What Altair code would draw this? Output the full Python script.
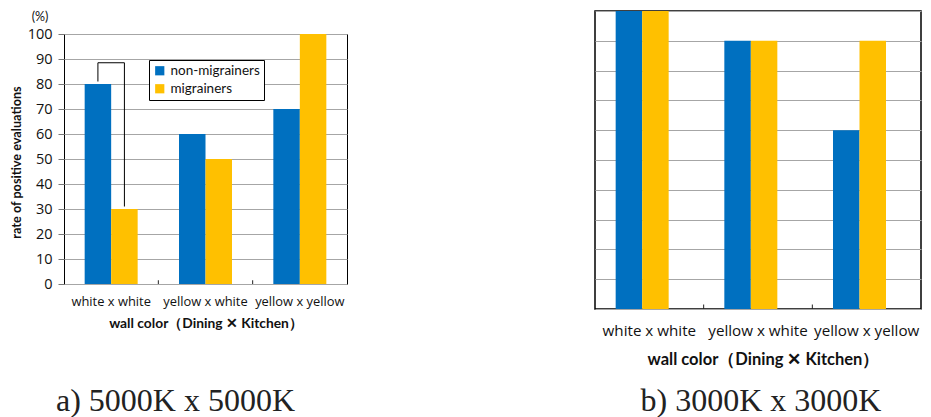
import altair as alt
import pandas as pd

categories = ["white x white", "yellow x white", "yellow x yellow"]
groups = ["non-migrainers", "migrainers"]
a_non = [80, 60, 70]
a_mig = [30, 50, 100]
b_non = [100, 90, 60]
b_mig = [100, 90, 90]
y_ticks = [0, 10, 20, 30, 40, 50, 60, 70, 80, 90, 100]
bracket_category = ["white x white"] * 4
bracket_group = ["non-migrainers", "non-migrainers", "migrainers", "migrainers"]
bracket_value = [81, 88.5, 88.5, 31]
bracket_order = [0, 1, 2, 3]
boundary_categories = ["yellow x white", "yellow x yellow"]
boundary_low = [0, 0]
boundary_high = [1.5, 1.5]
colors = ["#0070C0", "#FFC000"]
x_title = "wall color（Dining ✕ Kitchen）"


def long_df(non, mig):
    rows = []
    for c, v in zip(categories, non):
        rows.append({"category": c, "group": groups[0], "value": v})
    for c, v in zip(categories, mig):
        rows.append({"category": c, "group": groups[1], "value": v})
    return pd.DataFrame(rows)


df_a = long_df(a_non, a_mig)
df_b = long_df(b_non, b_mig)
df_br = pd.DataFrame({"category": bracket_category, "group": bracket_group,
                      "value": bracket_value, "order": bracket_order})
df_bound = pd.DataFrame({"category": boundary_categories, "value": boundary_low,
                         "value2": boundary_high})
df_pct = pd.DataFrame({"t": ["(%)"]})

GRID = "#A6A6A6"
FONT = "Lato"
LFONT = "Open Sans"
Y_SCALE = alt.Scale(domain=[0, 100], nice=False)


def panel_layers(df, label_size, label_pad, title_size, title_pad, y_axis, pad_outer, legend,
                 title_x=None):
    axis_kw = dict(title=x_title, labelAngle=0, ticks=False, domain=False,
                   labelFont=LFONT, labelFontSize=label_size, labelColor="#111",
                   labelPadding=label_pad, titleFont=FONT, titleFontSize=title_size,
                   titleFontWeight="bold", titleColor="#111", titlePadding=title_pad)
    if title_x is not None:
        axis_kw["titleX"] = title_x
        axis_kw["titleAlign"] = "center"
    x_axis = alt.Axis(**axis_kw)
    x_enc = alt.X("category:N", sort=categories,
                  scale=alt.Scale(paddingInner=0, paddingOuter=0), axis=x_axis)
    bars = alt.Chart(df).mark_bar().encode(
        x=x_enc,
        xOffset=alt.XOffset("group:N", sort=groups,
                            scale=alt.Scale(paddingOuter=pad_outer, paddingInner=0)),
        y=alt.Y("value:Q", scale=Y_SCALE, axis=y_axis),
        color=alt.Color("group:N", sort=groups,
                        scale=alt.Scale(domain=groups, range=colors), legend=legend),
    )
    bticks = alt.Chart(df_bound).mark_rule(color="#222", strokeWidth=1).encode(
        x=alt.X("category:N", sort=categories, bandPosition=0, axis=x_axis),
        y=alt.Y("value:Q", scale=Y_SCALE, axis=y_axis),
        y2="value2:Q",
    )
    return [bars, bticks], x_axis


# ---- left panel (a) ----
y_axis_a = alt.Axis(values=y_ticks, title="rate of positive evaluations", grid=True, gridColor=GRID,
                    domain=False, tickColor="#777", tickSize=6, labelPadding=6,
                    labelFont=LFONT, labelFontSize=14.5, labelColor="#111",
                    titleFont=FONT, titleFontSize=12.7, titleFontWeight="bold", titleColor="#111",
                    titleAngle=270, titleAlign="center", titleBaseline="middle",
                    titleX=-48, titleY=128)
legend_a = alt.Legend(title=None, orient="none", legendX=85, legendY=26, strokeColor="black",
                      fillColor="white", padding=4, symbolType="square", symbolSize=85,
                      symbolStrokeWidth=0, labelFont=FONT, labelFontSize=13.5, labelColor="#111",
                      rowPadding=3, labelOffset=4)
layers_a, x_axis_a = panel_layers(df_a, 12.9, 11, 13.8, 9, y_axis_a, 0.78, legend_a)
bracket = alt.Chart(df_br).mark_line(color="black", strokeWidth=1).encode(
    x=alt.X("category:N", sort=categories, axis=x_axis_a),
    xOffset=alt.XOffset("group:N", sort=groups),
    y=alt.Y("value:Q", scale=Y_SCALE, axis=y_axis_a),
    order="order:Q",
)
left_main = alt.layer(*layers_a, bracket).properties(
    width=283, height=250,
    view=alt.ViewBackground(stroke="black", strokeWidth=1),
    title=alt.Title("a) 5000K x 5000K", orient="bottom", anchor="middle", font="Liberation Serif",
                    fontSize=32, fontWeight="normal", color="#222", offset=55, dx=-30),
)
pct = alt.Chart(df_pct).mark_text(font=FONT, fontSize=12.5, color="#111").encode(
    x=alt.value(-24), y=alt.value(6), text="t:N"
).properties(width=283, height=13, view=alt.ViewBackground(stroke="transparent"))
left = alt.vconcat(pct, left_main, spacing=0).resolve_scale(color="independent")

# ---- right panel (b) ----
y_axis_b = alt.Axis(values=y_ticks, title=None, labels=False, ticks=False, domain=False,
                    grid=True, gridColor=GRID)
layers_b, _ = panel_layers(df_b, 15.2, 14, 16.5, 13, y_axis_b, 0.67, None, title_x=168)
right = alt.layer(*layers_b).properties(
    width=326, height=298,
    view=alt.ViewBackground(stroke="black", strokeWidth=1.5),
    title=alt.Title("b) 3000K x 3000K", orient="bottom", anchor="middle", font="Liberation Serif",
                    fontSize=32, fontWeight="normal", color="#222", offset=18, dx=3),
)

chart = alt.hconcat(left, right, spacing=246).resolve_scale(color="independent").properties(
    padding={"left": 1, "top": 2, "right": 0, "bottom": 0},
).configure_view(stroke="black")

chart.save("out.html", embed_options={"renderer": "svg", "actions": False})
